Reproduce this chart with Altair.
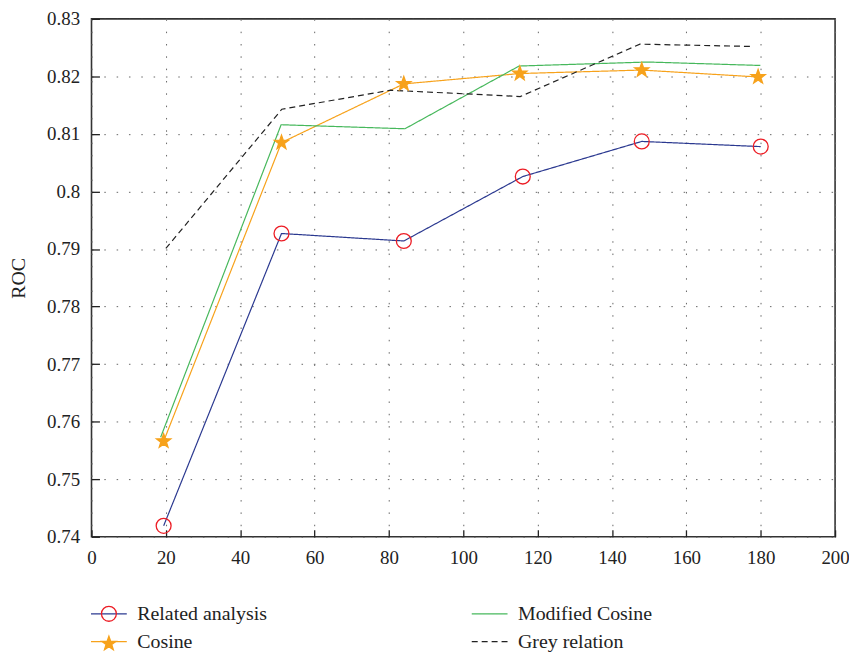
import math
import altair as alt
import pandas as pd

SERIES = ["Related analysis", "Cosine", "Modified Cosine", "Grey relation"]

x_ra = [19.4, 51.1, 84.0, 116.0, 148.0, 180.0]
related = [0.7419, 0.7927, 0.7914, 0.8026, 0.8087, 0.8078]
x_cos = [19.4, 51.1, 84.0, 115.2, 148.0, 179.3]
cosine = [0.7566, 0.8085, 0.8187, 0.8205, 0.8211, 0.8199]
x_mc = [18.6, 51.0, 84.3, 115.0, 149.6, 179.9]
modified = [0.7573, 0.8116, 0.8109, 0.8218, 0.8225, 0.8219]
x_gr = [20.0, 51.2, 80.4, 115.3, 147.5, 177.9]
grey = [0.7901, 0.8143, 0.8176, 0.8165, 0.8256, 0.8252]

x_ticks = [0, 20, 40, 60, 80, 100, 120, 140, 160, 180, 200]
y_ticks = [0.74, 0.75, 0.76, 0.77, 0.78, 0.79, 0.80, 0.81, 0.82, 0.83]

NAVY = "#2b3990"
RED = "#ec1c24"
ORANGE = "#f7a21b"
GREEN = "#47b85c"
BLACK = "#222222"
SERIF = "Liberation Serif"

rows = []
for name, xs, ys in [
    (SERIES[0], x_ra, related),
    (SERIES[1], x_cos, cosine),
    (SERIES[2], x_mc, modified),
    (SERIES[3], x_gr, grey),
]:
    for xv, yv in zip(xs, ys):
        rows.append({"series": name, "x": xv, "y": yv})
df = pd.DataFrame(rows)
pts = df[df["series"].isin(SERIES[:2])].copy()
pts["marker"] = pts["series"]

# five-point star symbol path (unit radius)
pp = []
for i in range(10):
    r = 1.0 if i % 2 == 0 else 0.4
    a = -math.pi / 2 + i * math.pi / 5
    pp.append(f"{r * math.cos(a):.4f},{r * math.sin(a):.4f}")
STAR = "M" + "L".join(pp) + "Z"

xenc = alt.X("x:Q", scale=alt.Scale(domain=[0, 200], nice=False),
             axis=alt.Axis(values=x_ticks, title=None, offset=-7, tickSize=7,
                           labelPadding=12, labelFlush=False))
yenc = alt.Y("y:Q", scale=alt.Scale(domain=[0.74, 0.83], nice=False, zero=False),
             axis=alt.Axis(values=y_ticks, format=".2~f", title="ROC", offset=-8,
                           tickSize=8, labelPadding=12, titlePadding=18, labelFlush=False))

LX = -0.5
LY = 588.5
legA = alt.Legend(title=None, orient="none", legendX=LX, legendY=LY, direction="vertical",
                  columns=2, columnPadding=202, rowPadding=8, symbolType="M-2.25,0H2.25",
                  symbolSize=256, symbolStrokeWidth=1.2, symbolOffset=8, labelOffset=18.5,
                  labelFont=SERIF, labelFontSize=20, labelColor=BLACK, padding=0, labelLimit=0)
legB = alt.Legend(title=None, orient="none", legendX=LX, legendY=LY, direction="vertical",
                  columns=1, rowPadding=8, symbolSize=225, symbolStrokeWidth=1.3,
                  symbolOffset=8, labelOffset=18.5, labelFont=SERIF, labelFontSize=20,
                  labelExpr="''", padding=0, labelLimit=0)

lines = alt.Chart(df).mark_line(strokeWidth=1.2).encode(
    x=xenc, y=yenc,
    color=alt.Color("series:N", scale=alt.Scale(domain=SERIES, range=[NAVY, ORANGE, GREEN, BLACK]), legend=legA),
    strokeDash=alt.StrokeDash("series:N", scale=alt.Scale(domain=SERIES, range=[[1, 0], [1, 0], [1, 0], [6, 4]]), legend=legA),
)

mdom = SERIES[:2]
points = alt.Chart(pts).mark_point(opacity=1, strokeWidth=1.3, size=225).encode(
    x=xenc, y=yenc,
    shape=alt.Shape("marker:N", scale=alt.Scale(domain=mdom, range=["circle", STAR]), legend=legB),
    fill=alt.Fill("marker:N", scale=alt.Scale(domain=mdom, range=["transparent", ORANGE]), legend=legB),
    stroke=alt.Stroke("marker:N", scale=alt.Scale(domain=mdom, range=[RED, ORANGE]), legend=legB),
)

chart = alt.layer(lines, points).properties(
    width=748, height=521,
    padding={"left": 84, "top": 9, "right": 14, "bottom": 114},
    autosize=alt.AutoSizeParams(type="none"),
).configure_view(stroke="#333333", strokeWidth=1.6).configure_axis(
    grid=True, gridColor="#666666", gridDash=[1.5, 10.9], gridWidth=1,
    domain=False, labelFont=SERIF, labelFontSize=19, labelColor=BLACK,
    tickColor=BLACK, tickWidth=1.3, titleFont=SERIF, titleFontSize=20,
    titleFontWeight="normal", titleColor=BLACK,
)

chart.save("out.html", embed_options={"renderer": "svg", "actions": False})
